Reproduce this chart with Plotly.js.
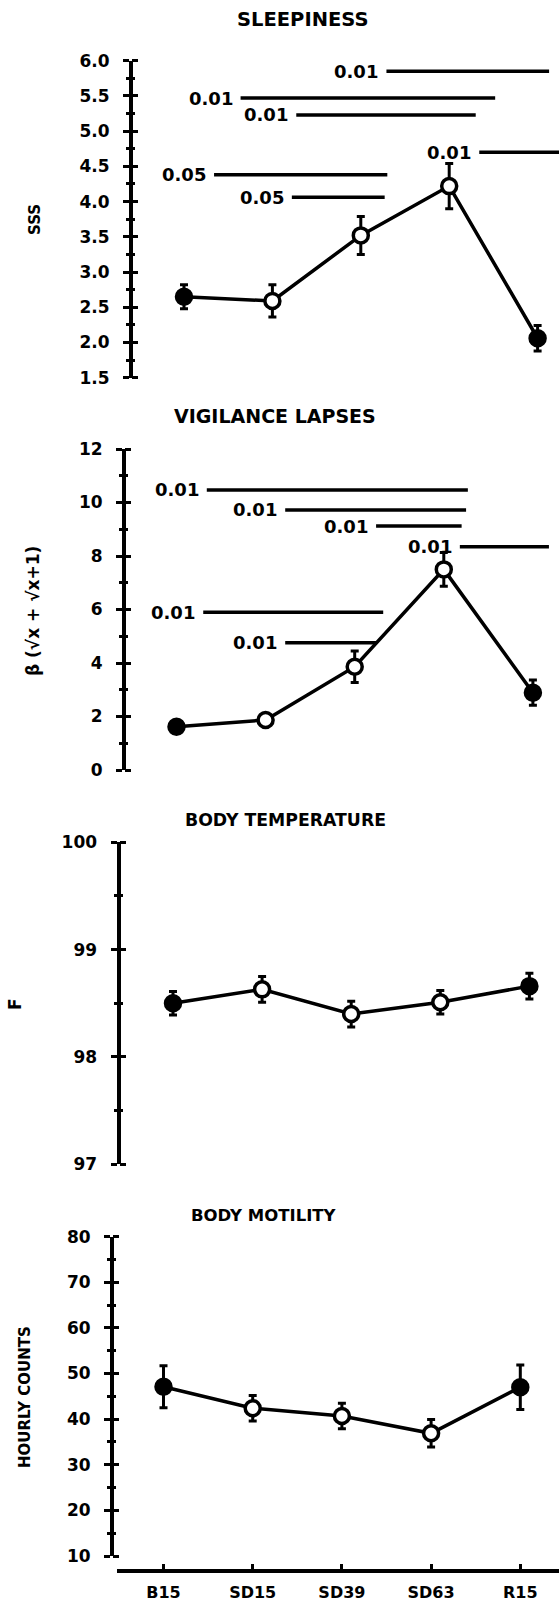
<!DOCTYPE html>
<html><head><meta charset="utf-8">
<script src="https://cdn.plot.ly/plotly-3.0.1.min.js"></script>
<style>html,body{margin:0;padding:0;background:#fff}#chart{width:559px;height:1604px}</style>
</head><body><div id="chart"></div>
<script>
// ---- data ----
const categories = ["B15","SD15","SD39","SD63","R15"];
const filled = [true,false,false,false,true];

const sleepiness = [2.65,2.59,3.52,4.22,2.06];
const sleepinessErr = [0.17,0.23,0.27,0.32,0.18];
const lapses = [1.62,1.87,3.86,7.50,2.89];
const lapsesErr = [0.15,0.12,0.59,0.63,0.47];
const temperature = [98.50,98.63,98.40,98.51,98.66];
const temperatureErr = [0.11,0.12,0.12,0.11,0.12];
const motility = [47.1,42.4,40.7,36.9,47.0];
const motilityErr = [4.6,2.8,2.8,3.0,4.9];

// significance bars: level, start / end (in category index units), p label
const sleepSigLevel = [5.85,5.47,5.23,4.70,4.38,4.06];
const sleepSigFrom  = [2.29,0.64,1.27,3.34,0.34,1.22];
const sleepSigTo    = [4.13,3.52,3.30,4.30,2.30,2.27];
const sleepSigP     = ["0.01","0.01","0.01","0.01","0.05","0.05"];
const lapseSigLevel = [10.47,9.72,9.12,8.35,5.90,4.76];
const lapseSigFrom  = [0.34,1.22,2.24,3.18,0.30,1.22];
const lapseSigTo    = [3.27,3.25,3.20,4.18,2.32,2.24];
const lapseSigP     = ["0.01","0.01","0.01","0.01","0.01","0.01"];

// ---- layout config ----
const W = 559, H = 1604;
const FONT = 'DejaVu Sans';
const panels = [
  {title:'SLEEPINESS', tsize:19.5, tx:302.5, ty:19.5, ylab:'SSS', ylx:35, yly:220, ylsize:15,
   range:[1.5,6], top:60.7, bot:377.7, axisX:131, dtick:0.5, minor:0.25, fmt:'.1f', p0:184, s:88.4,
   y:sleepiness, err:sleepinessErr,
   sig:{lvl:sleepSigLevel, from:sleepSigFrom, to:sleepSigTo, p:sleepSigP}},
  {title:'VIGILANCE LAPSES', tsize:19, tx:274.5, ty:415.5, ylab:'β (√x + √x+1)', ylx:33, yly:611, ylsize:17,
   range:[0,12], top:449, bot:770, axisX:124, dtick:2, minor:1, fmt:'d', p0:176.5, s:89.1,
   y:lapses, err:lapsesErr,
   sig:{lvl:lapseSigLevel, from:lapseSigFrom, to:lapseSigTo, p:lapseSigP}},
  {title:'BODY TEMPERATURE', tsize:17.3, tx:285, ty:820, ylab:'F', ylx:15, yly:1004, ylsize:17,
   range:[97,100], top:842.3, bot:1164.3, axisX:118.5, dtick:1, minor:0.5, fmt:'d', p0:173, s:89.1,
   y:temperature, err:temperatureErr, sig:null},
  {title:'BODY MOTILITY', tsize:16.5, tx:263.8, ty:1215.5, ylab:'HOURLY COUNTS', ylx:25, yly:1397, ylsize:15,
   range:[10,80], top:1236.7, bot:1556, axisX:112, dtick:10, minor:5, fmt:'d', p0:163.5, s:89.2,
   y:motility, err:motilityErr, sig:null}
];

const traces = [];
const annotations = [];
const layout = {
  width: W, height: H,
  margin: {l:0, r:0, t:0, b:0},
  paper_bgcolor: '#fff', plot_bgcolor: 'rgba(0,0,0,0)',
  showlegend: false,
  font: {family: FONT, color: '#000', weight: 'bold'},
};

const idx = categories.map((c,i)=>i);

panels.forEach((P, i) => {
  const n = i + 1;
  const xa = n === 1 ? 'xaxis' : 'xaxis' + n;
  const ya = n === 1 ? 'yaxis' : 'yaxis' + n;
  const xid = n === 1 ? 'x' : 'x' + n;
  const yid = n === 1 ? 'y' : 'y' + n;
  const oid = 'y' + (n + 4);
  const isLast = n === 4;

  if (isLast) {
    const xStart = 116.7;
    layout[xa] = {
      domain: [xStart / W, 1], anchor: 'free', position: 1 - 1571 / H,
      range: [(xStart - P.p0) / P.s, (W - P.p0) / P.s],
      showline: true, linewidth: 4, linecolor: '#000',
      ticks: 'inside', ticklen: 5, tickwidth: 3, tickcolor: '#000',
      tickvals: idx, ticktext: categories, ticklabelstandoff: 6,
      tickfont: {family: FONT, size: 16, weight: 'bold', color: '#000'},
      showgrid: false, zeroline: false, fixedrange: true
    };
  } else {
    layout[xa] = {
      domain: [0, 1], anchor: yid, range: [-P.p0 / P.s, (W - P.p0) / P.s],
      visible: false, showgrid: false, zeroline: false, fixedrange: true
    };
  }

  const dom = [1 - P.bot / H, 1 - P.top / H];
  layout[ya] = {
    domain: dom, range: P.range, anchor: 'free', position: P.axisX / W, side: 'left',
    showline: true, linewidth: 4, linecolor: '#000',
    ticks: 'outside', ticklen: 6, tickwidth: 3, tickcolor: '#000',
    tick0: P.range[0], dtick: P.dtick, tickformat: P.fmt, ticklabelstandoff: 10,
    tickfont: {family: FONT, size: 17, weight: 'bold', color: '#000'},
    minor: {ticks: 'outside', ticklen: 3, tickwidth: 3, tickcolor: '#000', dtick: P.minor, tick0: P.range[0]},
    showgrid: false, zeroline: false, fixedrange: true
  };
  // mirror axis drawing the right-hand half of the crossing ticks
  layout['yaxis' + (n + 4)] = {
    overlaying: yid, range: P.range, anchor: 'free', position: P.axisX / W, side: 'right',
    showline: false, ticks: 'outside', ticklen: 6, tickwidth: 3, tickcolor: '#000',
    tick0: P.range[0], dtick: P.dtick, showticklabels: false,
    minor: {ticks: 'outside', ticklen: 3, tickwidth: 3, tickcolor: '#000', dtick: P.minor, tick0: P.range[0]},
    showgrid: false, zeroline: false, fixedrange: true
  };
  traces.push({x: [0], y: [P.range[0]], xaxis: xid, yaxis: oid, type: 'scatter', mode: 'markers',
               marker: {size: 1, opacity: 0}, hoverinfo: 'skip'});

  // significance bars
  if (P.sig) {
    P.sig.lvl.forEach((lv, k) => {
      traces.push({
        x: [P.sig.from[k], P.sig.to[k]], y: [lv, lv], xaxis: xid, yaxis: yid,
        type: 'scatter', mode: 'lines', line: {color: '#000', width: 3.5}, hoverinfo: 'skip', cliponaxis: false
      });
      annotations.push({
        xref: xid, yref: yid, x: P.sig.from[k], y: lv, text: P.sig.p[k],
        xanchor: 'right', yanchor: 'middle', xshift: -6, showarrow: false,
        font: {family: FONT, size: 18, weight: 'bold', color: '#000'}
      });
    });
  }

  // main series
  traces.push({
    x: idx, y: P.y, xaxis: xid, yaxis: yid, type: 'scatter', mode: 'lines+markers',
    line: {color: '#000', width: 3.5},
    marker: {size: 15, color: filled.map(f => f ? '#000' : '#fff'), line: {color: '#000', width: 3.5}},
    error_y: {type: 'data', array: P.err, visible: true, color: '#000', thickness: 3, width: 4},
    cliponaxis: false, hoverinfo: 'skip'
  });

  // panel title
  annotations.push({
    xref: 'paper', yref: 'paper', x: P.tx / W, y: 1 - P.ty / H, text: P.title,
    xanchor: 'center', yanchor: 'middle', showarrow: false,
    font: {family: FONT, size: P.tsize, weight: 'bold', color: '#000'}
  });
  // y-axis label
  annotations.push({
    xref: 'paper', yref: 'paper', x: P.ylx / W, y: 1 - P.yly / H, text: P.ylab,
    textangle: -90, xanchor: 'center', yanchor: 'middle', showarrow: false,
    font: {family: FONT, size: P.ylsize, weight: 'bold', color: '#000'}
  });
});

layout.annotations = annotations;
Plotly.newPlot('chart', traces, layout, {staticPlot: true, displayModeBar: false});
</script>
</body></html>
